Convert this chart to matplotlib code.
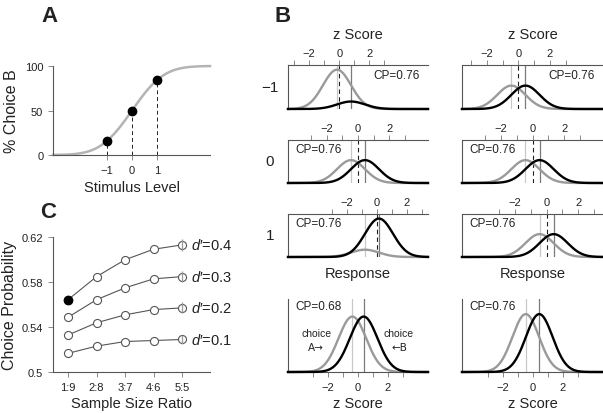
"""Choice probability figure: psychometric curve (A), conditional response
distributions by stimulus level (B) and CP vs sample size ratio (C)."""
import math

import numpy as np
import matplotlib
matplotlib.use("Agg")
import matplotlib.pyplot as plt

INK = "#222222"
AXIS = "#555555"
TICK = "#8a8a8a"
GRAY = "#9a9a9a"     # choice A curve
PALE = "#c8c8c8"     # line at mean of choice A
MID = "#7a7a7a"      # line at mean of choice B
CURVE_A = "#b4b4b4"  # psychometric function

plt.rcParams.update({
    "font.family": ["Liberation Sans", "DejaVu Sans"],
    "font.size": 8,
    "text.color": INK,
    "axes.edgecolor": AXIS,
    "axes.labelcolor": INK,
    "axes.linewidth": 0.8,
    "xtick.color": TICK,
    "ytick.color": TICK,
    "xtick.labelcolor": INK,
    "ytick.labelcolor": INK,
    "xtick.major.size": 3.5,
    "ytick.major.size": 3.5,
    "xtick.major.width": 0.7,
    "ytick.major.width": 0.7,
    "xtick.labelsize": 8,
    "ytick.labelsize": 8,
    "mathtext.fontset": "custom",
    "mathtext.it": "Liberation Sans:italic",
    "mathtext.rm": "Liberation Sans",
})

W, H = 603, 414
MINUS = "\u2212"

# --- A: psychometric function ----------------------------------------------
STIM = [-1, 0, 1]
PCT_B = [16, 50, 84]
PSY_MU, PSY_SD = 0.0, 1.0

# --- B: response distributions, rows = stimulus level ----------------------
LEVELS = [MINUS + "1", "0", "1"]
MU_A = [-1.5, -0.5, 0.5]           # mean response, choice A
MU_B = [-0.5, 0.5, 1.5]            # mean response, choice B
W_B_LEFT = [0.16, 0.5, 0.84]       # fraction choosing B (left column)
W_B_RIGHT = [0.5, 0.5, 0.5]        # balanced choices (right column)
Z0_LEFT = [-1.34, 0.0, 1.34]       # where z = 0 falls on the response axis
ZSD_LEFT = [1.07, 1.12, 1.07]      # one z unit on the response axis
Z0_RIGHT = [-1.0, 0.0, 1.0]
ZSD_RIGHT = [1.12, 1.12, 1.12]
CP_ROW = "CP=0.76"
# pooled z-scored distributions (bottom)
POOL_MU = [0.38, 0.45]             # +/- offset of choice means, left/right
POOL_SD = [0.93, 0.89]
POOL_CP = ["CP=0.68", "CP=0.76"]

# --- C: choice probability vs sample size ratio ------------------------------
RATIOS = ["1:9", "2:8", "3:7", "4:6", "5:5"]
DPRIMES = ["0.1", "0.2", "0.3", "0.4"]
CP_D1 = [0.5166, 0.5230, 0.5271, 0.5280, 0.5289]
CP_D2 = [0.5329, 0.5438, 0.5508, 0.5555, 0.5570]
CP_D3 = [0.5487, 0.5643, 0.5748, 0.5828, 0.5848]
CP_D4 = [0.5643, 0.5848, 0.5998, 0.6091, 0.6130]
ERR_55 = [0.0044, 0.0048, 0.0050, 0.0053]


def box(x0, y0, x1, y1):
    """pixel box (top-left origin) -> figure fraction rect"""
    return [x0 / W, 1 - y1 / H, (x1 - x0) / W, (y1 - y0) / H]


def gauss(x, mu, sd):
    return np.exp(-0.5 * ((x - mu) / sd) ** 2) / (sd * math.sqrt(2 * math.pi))


def zlabels(ks):
    return [(MINUS + str(-k) if k < 0 else str(k)) if k in (-2, 0, 2) else ""
            for k in ks]


fig = plt.figure(figsize=(W / 100, H / 100), dpi=100)

# ---------------------------------------------------------------------------
# A
axA = fig.add_axes(box(53, 67, 210, 156))
xs = np.linspace(-3.16, 3.12, 300)
phi = np.array([0.5 * (1 + math.erf((v - PSY_MU) / (PSY_SD * math.sqrt(2)))) for v in xs])
axA.plot(xs, 100 * phi, color=CURVE_A, lw=1.8, clip_on=False, zorder=1)
for x, y in zip(STIM, PCT_B):
    axA.plot([x, x], [0, y], color=INK, lw=0.7, ls=(0, (4, 3)), zorder=2)
axA.plot(STIM, PCT_B, "o", color="k", ms=6, zorder=3, clip_on=False)
axA.set_xlim(-3.16, 3.12)
axA.set_ylim(0, 100)
axA.set_xticks(STIM)
axA.set_xticklabels([MINUS + "1", "0", "1"])
axA.set_yticks([0, 50, 100])
axA.spines[["top", "right"]].set_visible(False)
axA.set_xlabel("Stimulus Level", fontsize=10.5, labelpad=4)
axA.set_ylabel("% Choice B", fontsize=11.5, labelpad=4)
fig.text(41 / W, 1 - 16 / H, "A", fontsize=16, weight="bold", va="center")

# ---------------------------------------------------------------------------
# B
fig.text(275 / W, 1 - 16 / H, "B", fontsize=16, weight="bold", va="center")
rows_px = [(66, 110), (141, 184), (215, 258)]
cols = [(288, 428, W_B_LEFT, Z0_LEFT, ZSD_LEFT),
        (462, 603, W_B_RIGHT, Z0_RIGHT, ZSD_RIGHT)]
xr = np.linspace(-5, 5, 400)
ks = list(range(-3, 4))
for c, (x0, x1, wb, z0s, zsds) in enumerate(cols):
    for r, (y0, y1) in enumerate(rows_px):
        ax = fig.add_axes(box(x0, y0, x1, y1))
        ax.axvline(MU_A[r], color=PALE, lw=0.9, zorder=1)
        ax.axvline(MU_B[r], color=MID, lw=0.9, zorder=1)
        ax.axvline(z0s[r], color=INK, lw=0.8, ls=(0, (4, 3)), zorder=1)
        ax.plot(xr, (1 - wb[r]) * gauss(xr, MU_A[r], 1.0), color=GRAY, lw=1.7,
                clip_on=False, zorder=2)
        ax.plot(xr, wb[r] * gauss(xr, MU_B[r], 1.0), color="k", lw=1.7,
                clip_on=False, zorder=3)
        ax.set_xlim(-5, 5)
        ax.set_ylim(0, 0.375)
        ax.xaxis.tick_top()
        ax.set_xticks([z0s[r] + k * zsds[r] for k in ks])
        ax.set_xticklabels(zlabels(ks))
        ax.tick_params(axis="x", pad=1.5)
        ax.set_yticks([])
        ax.spines[["bottom", "right"]].set_visible(False)
        if r == 0:
            ax.text(0.94, 0.77, CP_ROW, transform=ax.transAxes, ha="right",
                    va="center", fontsize=8.5)
            ax.text(0.5, 1.70, "z Score", transform=ax.transAxes, ha="center",
                    va="center", fontsize=10.5)
        else:
            ax.text(0.05, 0.79, CP_ROW, transform=ax.transAxes, ha="left",
                    va="center", fontsize=8.5)
        if r == 2:
            ax.text(0.5, -0.37, "Response", transform=ax.transAxes, ha="center",
                    va="center", fontsize=10.5)
        if c == 0:
            fig.text(270 / W, 1 - (y0 + y1) / 2 / H, LEVELS[r], ha="center",
                     va="center", fontsize=11)

    # pooled, z-scored
    axP = fig.add_axes(box(x0, 300, x1, 373))
    m, sd = POOL_MU[c], POOL_SD[c]
    xp = np.linspace(-4.7, 4.7, 400)
    axP.axvline(-m, color=PALE, lw=0.9, zorder=1)
    axP.axvline(m, color=MID, lw=0.9, zorder=1)
    axP.plot(xp, gauss(xp, -m, sd), color=GRAY, lw=1.7, clip_on=False, zorder=2)
    axP.plot(xp, gauss(xp, m, sd), color="k", lw=1.7, clip_on=False, zorder=3)
    axP.set_xlim(-4.7, 4.7)
    axP.set_ylim(0, 0.565)
    axP.set_xticks(ks)
    axP.set_xticklabels(zlabels(ks))
    axP.set_yticks([])
    axP.spines[["top", "right"]].set_visible(False)
    axP.set_xlabel("z Score", fontsize=10.5, labelpad=3)
    axP.text(0.05, 0.9, POOL_CP[c], transform=axP.transAxes, ha="left",
             va="center", fontsize=8.5)
    if c == 0:
        tr = axP.get_xaxis_transform()
        axP.text(-2.75, 0.53, "choice", transform=tr, ha="center", va="center",
                 fontsize=7.5)
        axP.text(-2.85, 0.34, "A\u2192", transform=tr, ha="center", va="center",
                 fontsize=7.5, family=["DejaVu Sans"])
        axP.text(2.75, 0.53, "choice", transform=tr, ha="center", va="center",
                 fontsize=7.5)
        axP.text(2.8, 0.34, "\u2190B", transform=tr, ha="center", va="center",
                 fontsize=7.5, family=["DejaVu Sans"])

# ---------------------------------------------------------------------------
# C
axC = fig.add_axes(box(53, 238, 210, 373))
idx = np.arange(len(RATIOS))
for d, vals, err in zip(DPRIMES, [CP_D1, CP_D2, CP_D3, CP_D4], ERR_55):
    axC.plot(idx, vals, "-o", color=AXIS, lw=0.8, ms=5.8, mfc="white",
             mec=AXIS, mew=0.8, zorder=2, clip_on=False)
    axC.errorbar(idx[-1], vals[-1], yerr=err, fmt="none", ecolor=GRAY,
                 elinewidth=0.9, capsize=0, zorder=3)
    axC.text(idx[-1] + 0.32, vals[-1], f"$d$\u2032={d}", fontsize=10.5,
             va="center", ha="left")
axC.plot(idx[0], CP_D4[0], "o", color="k", ms=6, zorder=4)
axC.set_xlim(-0.53, 4.98)
axC.set_ylim(0.5, 0.62)
axC.set_xticks(idx)
axC.set_xticklabels(RATIOS)
axC.set_yticks([0.5, 0.54, 0.58, 0.62])
axC.set_yticklabels(["0.5", "0.54", "0.58", "0.62"])
axC.spines[["top", "right"]].set_visible(False)
axC.set_xlabel("Sample Size Ratio", fontsize=10.5, labelpad=3)
axC.set_ylabel("Choice Probability", fontsize=11.5, labelpad=3)
fig.text(40 / W, 1 - 213 / H, "C", fontsize=16, weight="bold", va="center")

fig.savefig("out.png", dpi=100)
